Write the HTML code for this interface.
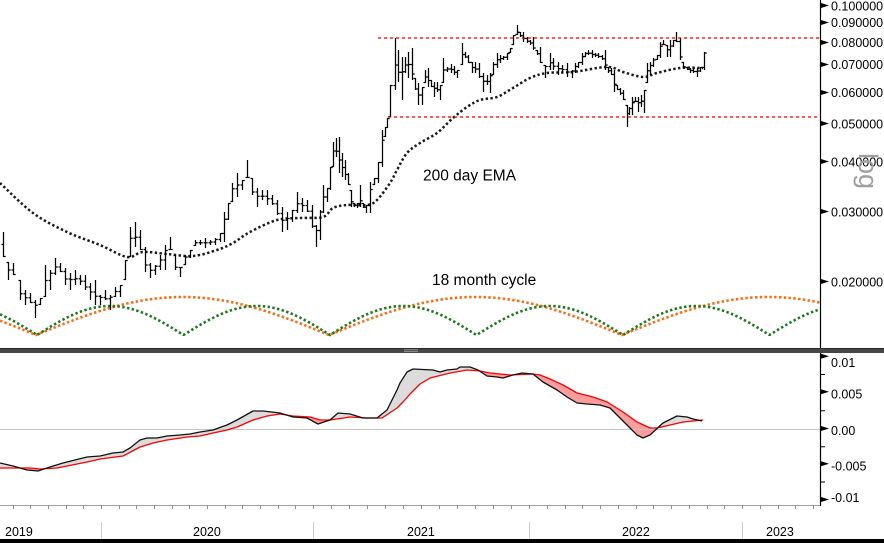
<!DOCTYPE html>
<html><head><meta charset="utf-8"><style>
html,body{margin:0;padding:0;background:#fff;overflow:hidden;}
svg{display:block;font-family:"Liberation Sans",sans-serif;}
</style></head><body>
<svg id="c" width="884" height="543" viewBox="0 0 884 543" xmlns="http://www.w3.org/2000/svg">
<rect x="0" y="0" width="884" height="543" fill="#fff"/>
<g id="lowfill"></g>
<line x1="0" y1="429.5" x2="820" y2="429.5" stroke="#c4c4c4" stroke-width="1"/>
<g id="dyn"></g>
<!-- red lines -->
<line x1="378" y1="38" x2="820" y2="38" stroke="#e00000" stroke-width="1.3" stroke-dasharray="3 3"/>
<line x1="388" y1="117" x2="820" y2="117" stroke="#e00000" stroke-width="1.3" stroke-dasharray="3 3"/>
<!-- annotations -->
<text x="423" y="180.5" font-size="15.5" fill="#000">200 day EMA</text>
<text x="432" y="285" font-size="15.5" fill="#000">18 month cycle</text>
<!-- separator -->
<rect x="0" y="348" width="884" height="5" fill="#464646"/>
<line x1="0" y1="348.5" x2="884" y2="348.5" stroke="#2a2a2a" stroke-width="1"/>
<line x1="404" y1="349.8" x2="418" y2="349.8" stroke="#aaa" stroke-width="0.7"/>
<line x1="404" y1="351.3" x2="418" y2="351.3" stroke="#aaa" stroke-width="0.7"/>
<!-- axes -->
<line x1="820.5" y1="0" x2="820.5" y2="348" stroke="#000" stroke-width="1.2"/>
<line x1="820.5" y1="353" x2="820.5" y2="506" stroke="#000" stroke-width="1.2"/>
<line x1="0" y1="505.5" x2="820" y2="505.5" stroke="#a0a0a0" stroke-width="1"/>
<g id="ticks"></g>
<g font-size="12.5" fill="#000">
<text x="831" y="10.5">0.100000</text>
<text x="831" y="27">0.090000</text>
<text x="831" y="47">0.080000</text>
<text x="831" y="69">0.070000</text>
<text x="831" y="97">0.060000</text>
<text x="831" y="128.5">0.050000</text>
<text x="831" y="166.5">0.040000</text>
<text x="831" y="216.5">0.030000</text>
<text x="831" y="286.5">0.020000</text>
<text x="831" y="367">0.01</text>
<text x="831" y="398.5">0.005</text>
<text x="831" y="435">0.00</text>
<text x="831" y="470.5">-0.005</text>
<text x="831" y="502">-0.01</text>
</g>
<text x="0" y="0" font-size="27" fill="#a0a0a0" transform="translate(859,153) rotate(90)">log</text>
<!-- years -->
<g stroke="#cfcfcf" stroke-width="1">
<line x1="101.5" y1="522" x2="101.5" y2="539"/>
<line x1="313.5" y1="522" x2="313.5" y2="539"/>
<line x1="529.5" y1="522" x2="529.5" y2="539"/>
<line x1="742.5" y1="522" x2="742.5" y2="539"/>
</g>
<g font-size="12.5" fill="#000">
<text x="5" y="536">2019</text>
<text x="193" y="536">2020</text>
<text x="407" y="536">2021</text>
<text x="622" y="536">2022</text>
<text x="766" y="536">2023</text>
</g>
<rect x="0" y="539" width="884" height="4" fill="#000"/>
</svg>
<script>
(function(){
var NS="http://www.w3.org/2000/svg";
function el(parent,tag,attrs){var e=document.createElementNS(NS,tag);for(var k in attrs)e.setAttribute(k,attrs[k]);parent.appendChild(e);return e;}
var dyn=document.getElementById('dyn');
var ticks=document.getElementById('ticks');
var lowfill=document.getElementById('lowfill');

// cycles
function arc(x0,P,A,color){
  var pts=[];
  for(var x=0;x<=820;x+=1){var y=335-A*Math.abs(Math.sin(Math.PI*(x-x0)/P));pts.push(x+','+y.toFixed(2));}
  el(dyn,'polyline',{points:pts.join(' '),fill:'none',stroke:color,'stroke-width':'2.6','stroke-dasharray':'2.4 2.4'});
}
arc(36,293,38,'#ff6a10');
arc(37,146.5,29,'#1c7a1c');

// EMA
var ema=[[0,183],[33,213],[67,232],[100,245],[127,257],[143,252],[167,254],[193,256],[217,250],[233,243],[250,232],[277,220],[300,218],[323,217],[333,208],[347,205],[367,205],[377,200],[390,183],[397,170],[407,153],[420,143],[437,133],[453,118],[467,107],[480,100],[497,97],[513,88],[530,78],[547,73],[573,72],[607,67],[623,72],[643,77],[657,73],[680,68],[703,68]];
function smooth(p){
  var d='M'+p[0][0]+','+p[0][1];
  for(var i=0;i<p.length-1;i++){
    var p0=p[i-1]||p[i],p1=p[i],p2=p[i+1],p3=p[i+2]||p2;
    var c1x=p1[0]+(p2[0]-p0[0])/6,c1y=p1[1]+(p2[1]-p0[1])/6;
    var c2x=p2[0]-(p3[0]-p1[0])/6,c2y=p2[1]-(p3[1]-p1[1])/6;
    d+=' C'+c1x.toFixed(2)+','+c1y.toFixed(2)+' '+c2x.toFixed(2)+','+c2y.toFixed(2)+' '+p2[0]+','+p2[1];
  }
  return d;
}
el(dyn,'path',{d:smooth(ema),fill:'none',stroke:'#1a1a1a','stroke-width':'2.5','stroke-dasharray':'2.4 2.4'});

// bars [x,high,low]
var bars=[[3,232,257],[8,262,280],[13,263,275],[20,280,300],[25,290,305],[30,293,303],[35,300,318],[40,298,305],[45,265,297],[50,270,290],[55,258,275],[60,263,272],[65,268,285],[70,273,290],[75,270,285],[80,275,285],[85,275,290],[90,283,300],[95,280,305],[100,295,305],[105,290,300],[110,295,310],[115,287,297],[120,285,297],[125,260,280],[130,227,257],[135,222,247],[140,230,250],[145,247,272],[150,263,278],[155,265,275],[160,255,270],[165,245,270],[170,237,250],[175,255,270],[180,267,277],[185,255,265],[190,250,258],[195,240,246],[200,240,245],[205,238,248],[210,240,245],[215,238,245],[220,233,242],[224,212,242],[228,203,220],[232,183,202],[237,173,197],[242,180,190],[247,160,178],[252,178,195],[257,188,207],[262,190,200],[267,190,205],[272,195,205],[277,200,215],[282,207,232],[287,212,230],[292,210,222],[297,192,213],[302,198,212],[307,200,212],[312,205,228],[316,225,247],[320,210,240],[323,185,213],[327,188,202],[330,167,190],[333,142,167],[336,138,157],[339,137,173],[342,153,177],[345,160,180],[348,173,185],[351,190,207],[354,203,207],[357,203,208],[360,185,207],[363,203,208],[366,205,213],[370,182,213],[374,178,185],[378,162,183],[382,130,167],[385,127,137],[387,118,128],[390,85,117],[395,38,90],[398,50,82],[402,57,100],[405,57,73],[408,52,78],[412,48,80],[415,78,90],[418,83,105],[422,87,105],[425,70,83],[428,68,87],[431,80,87],[434,82,97],[437,82,92],[440,85,100],[443,58,83],[447,67,72],[451,64,73],[454,66,75],[457,70,78],[462,43,65],[465,52,58],[468,55,63],[472,62,73],[475,62,73],[479,63,78],[483,73,92],[487,75,85],[490,73,93],[493,62,75],[497,53,68],[500,55,63],[503,56,60],[507,53,60],[510,48,53],[513,35,45],[517,25,35],[520,32,37],[523,32,42],[527,37,43],[530,40,45],[533,37,50],[537,50,55],[540,47,63],[545,65,78],[550,53,70],[553,58,70],[558,62,75],[562,65,73],[567,63,77],[572,70,78],[575,63,73],[578,62,68],[582,53,65],[585,52,57],[588,50,55],[592,50,58],[595,53,57],[598,53,58],[602,55,60],[605,50,70],[608,67,73],[611,68,75],[614,70,92],[617,85,90],[620,88,95],[623,90,100],[627,105,127],[629,107,115],[632,97,115],[635,97,102],[638,97,112],[641,95,107],[644,90,113],[647,63,83],[650,62,75],[653,58,67],[657,55,60],[660,42,58],[663,40,45],[667,45,57],[670,40,57],[673,40,47],[676,32,42],[680,38,60],[683,62,68],[687,67,70],[690,68,73],[693,68,73],[697,68,77],[700,67,72],[704,52,70]];
function clamp(v,a,b){return Math.max(a,Math.min(b,v));}
var d='';var prevC=null;
for(var i=0;i<bars.length;i++){
  var x=bars[i][0]+0.5,h=bars[i][1],l=bars[i][2];
  if(l-h<3)l=h+3;
  var mid=(h+l)/2;
  var nm=(i+1<bars.length)?(bars[i+1][1]+bars[i+1][2])/2:h+1;
  var c=clamp((mid+nm)/2,h+0.5,l-0.5);
  if(i==bars.length-1)c=h+1;
  var o=(prevC==null)?mid:clamp(prevC,h+0.5,l-0.5);
  d+='M'+x+','+h+'V'+l+'M'+(x-2)+','+o.toFixed(1)+'H'+x+'M'+x+','+c.toFixed(1)+'H'+(x+2.2);
  prevC=c;
}
el(dyn,'path',{d:d,fill:'none',stroke:'#000','stroke-width':'1.25'});

// lower panel
var B=[[0,463],[13,466],[27,470],[38,471],[50,467],[63,463],[87,457],[100,456],[113,453],[123,452],[130,448],[140,440],[147,438],[157,438],[167,436],[180,435],[190,434],[200,432],[213,430],[227,425],[237,420],[253,411],[263,411],[280,413],[293,417],[307,418],[318,424],[330,420],[338,413],[350,414],[363,418],[377,418],[387,410],[397,390],[400,383],[407,372],[413,369],[433,370],[440,372],[447,370],[457,369],[460,367],[470,367],[478,370],[487,376],[497,377],[503,378],[513,375],[522,373],[533,374],[543,382],[557,390],[567,397],[577,403],[587,404],[600,405],[610,408],[620,418],[630,428],[637,435],[643,438],[650,435],[663,423],[677,416],[687,417],[693,419],[702,421]];
var R=[[0,468],[20,468],[30,468],[40,469],[57,468],[67,466],[87,462],[100,459],[123,456],[140,447],[153,443],[167,440],[187,437],[200,436],[213,433],[227,430],[237,427],[253,420],[267,416],[280,414],[293,416],[310,417],[320,420],[330,420],[350,417],[367,418],[382,418],[397,408],[403,402],[410,394],[420,384],[430,378],[450,373],[467,370],[480,371],[490,373],[500,374],[510,375],[533,374],[540,375],[550,379],[563,385],[577,393],[593,397],[607,402],[623,412],[637,422],[650,428],[657,428],[670,425],[683,422],[703,420]];
function interp(p,x){
  if(x<=p[0][0])return p[0][1];
  for(var i=0;i<p.length-1;i++){if(x<=p[i+1][0]){var t=(x-p[i][0])/(p[i+1][0]-p[i][0]);return p[i][1]+t*(p[i+1][1]-p[i][1]);}}
  return p[p.length-1][1];
}
for(var x=0;x<702;x+=0.5){
  var yb=interp(B,x+0.25),yr=interp(R,x+0.25);
  var top=Math.min(yb,yr),hgt=Math.abs(yb-yr);
  if(hgt<0.2)continue;
  el(lowfill,'rect',{x:x,y:top,width:0.6,height:hgt,fill:(yb<yr)?'#dcdcdc':'#ff9c9c'});
}
function pl(p){return p.map(function(a){return a[0]+','+a[1];}).join(' ');}
el(dyn,'polyline',{points:pl(R),fill:'none',stroke:'#ff0000','stroke-width':'1.3','stroke-linejoin':'round'});
el(dyn,'polyline',{points:pl(B),fill:'none',stroke:'#111','stroke-width':'1.3','stroke-linejoin':'round'});

// axis arrows
var up=[6,23,43,65,93,124,162,212,282];
var lo=[356.7,392.3,429,464.3,500];
var ar='';
up.concat(lo).forEach(function(y){ar+='M821,'+(y-3)+'L829,'+(y-0.5)+'L821,'+(y+2)+'Z';});
el(ticks,'path',{d:ar,fill:'#000'});
var mn='';
[374.5,410.7,446.7,482].forEach(function(y){mn+='M821,'+y+'H825';});
el(ticks,'path',{d:mn,stroke:'#000','stroke-width':'1'});
// month ticks
var yb=[-111,101,313,529,742,955];
var mt='';
for(var k=0;k<yb.length-1;k++){
  for(var m=0;m<12;m++){
    var tx=Math.round(yb[k]+(yb[k+1]-yb[k])*m/12)+0.5;
    if(tx>5&&tx<816)mt+='M'+tx+',505V509';
  }
}
el(ticks,'path',{d:mt,stroke:'#909090','stroke-width':'1'});
})();
</script>
</body></html>
